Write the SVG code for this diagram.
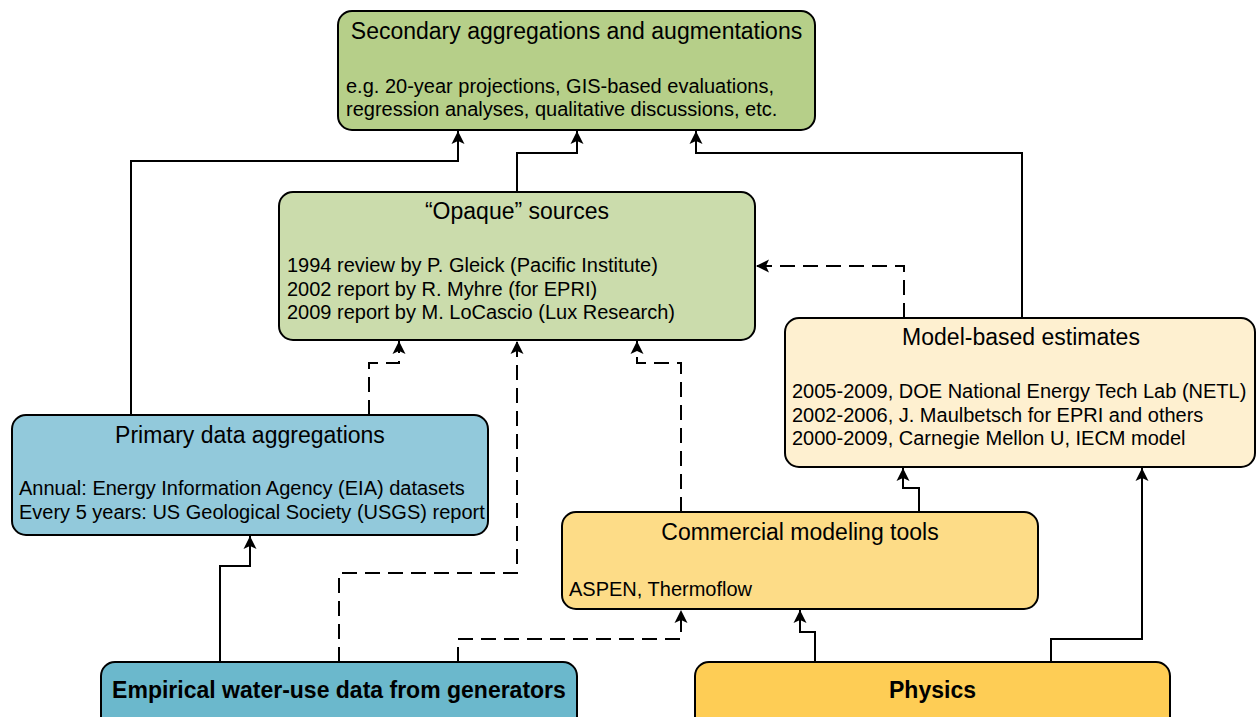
<svg xmlns="http://www.w3.org/2000/svg" width="1257" height="717" viewBox="0 0 1257 717">
  <style>
    .box { stroke: #000; stroke-width: 2; }
    .title { font-family: "Liberation Sans", Arial, sans-serif; font-size: 23px; fill: #000; text-anchor: middle; }
    .body { font-family: "Liberation Sans", Arial, sans-serif; font-size: 20px; fill: #000; }
    .bold { font-family: "Liberation Sans", Arial, sans-serif; font-size: 23px; font-weight: bold; fill: #000; text-anchor: middle; }
    .conn { fill: none; stroke: #000; stroke-width: 2; marker-end: url(#arrow); }
    .dash { stroke-dasharray: 15 8; }
  </style>
  <defs>
    <marker id="arrow" markerUnits="userSpaceOnUse" markerWidth="14" markerHeight="14" viewBox="0 0 14 14" refX="13" refY="7" orient="auto">
      <path d="M0,0.5 L13,7 L0,13.5 L3,7 z" fill="#000"/>
    </marker>
  </defs>
  <rect width="1257" height="717" fill="#fff"/>

  <g id="connectors">
    <path class="conn" d="M131,415 V161 H458 V131"/>
    <path class="conn" d="M517,192 V153 H577 V131"/>
    <path class="conn" d="M1022,318 V153 H696 V131"/>
    <path class="conn" d="M220,662 V566 H250 V536"/>
    <path class="conn" d="M815,662 V632 H800 V610"/>
    <path class="conn" d="M1051,662 V639 H1142 V468"/>
    <path class="conn" d="M919,512 V488 H903 V468"/>
    <path class="conn dash" d="M904,318 V266 H756"/>
    <path class="conn dash" d="M369,415 V363 H399 V341"/>
    <path class="conn dash" d="M339,662 V573 H517 V341"/>
    <path class="conn dash" d="M458,662 V639 H681 V610"/>
    <path class="conn dash" d="M681,512 V363 H637 V341"/>
  </g>

  <g id="secondary">
    <rect class="box" x="338" y="11" width="477" height="119" rx="14" fill="#b6cf89"/>
    <text class="title" x="576.5" y="39">Secondary aggregations and augmentations</text>
    <text class="body" x="346" y="93">e.g. 20-year projections, GIS-based evaluations,</text>
    <text class="body" x="346" y="116">regression analyses, qualitative discussions, etc.</text>
  </g>

  <g id="opaque">
    <rect class="box" x="279" y="192" width="476" height="148" rx="14" fill="#cbdcac"/>
    <text class="title" x="517" y="219">“Opaque” sources</text>
    <text class="body" x="287" y="272">1994 review by P. Gleick (Pacific Institute)</text>
    <text class="body" x="287" y="295.5">2002 report by R. Myhre (for EPRI)</text>
    <text class="body" x="287" y="319">2009 report by M. LoCascio (Lux Research)</text>
  </g>

  <g id="model">
    <rect class="box" x="785" y="318" width="470" height="149" rx="14" fill="#fef0d0"/>
    <text class="title" x="1021" y="345">Model-based estimates</text>
    <text class="body" x="792" y="398">2005-2009, DOE National Energy Tech Lab (NETL)</text>
    <text class="body" x="792" y="421.5">2002-2006, J. Maulbetsch for EPRI and others</text>
    <text class="body" x="792" y="445">2000-2009, Carnegie Mellon U, IECM model</text>
  </g>

  <g id="primary">
    <rect class="box" x="12" y="415" width="476" height="120" rx="14" fill="#92c9db"/>
    <text class="title" x="250" y="443">Primary data aggregations</text>
    <text class="body" x="19" y="495">Annual: Energy Information Agency (EIA) datasets</text>
    <text class="body" x="19" y="519">Every 5 years: US Geological Society (USGS) report</text>
  </g>

  <g id="commercial">
    <rect class="box" x="562" y="512" width="476" height="97" rx="14" fill="#fddc87"/>
    <text class="title" x="800" y="540">Commercial modeling tools</text>
    <text class="body" x="569" y="596">ASPEN, Thermoflow</text>
  </g>

  <g id="empirical">
    <rect class="box" x="101" y="662" width="476" height="80" rx="14" fill="#6bb8cc"/>
    <text class="bold" x="339" y="698">Empirical water-use data from generators</text>
  </g>

  <g id="physics">
    <rect class="box" x="695" y="662" width="475" height="80" rx="14" fill="#fecd55"/>
    <text class="bold" x="932.5" y="698">Physics</text>
  </g>
</svg>
